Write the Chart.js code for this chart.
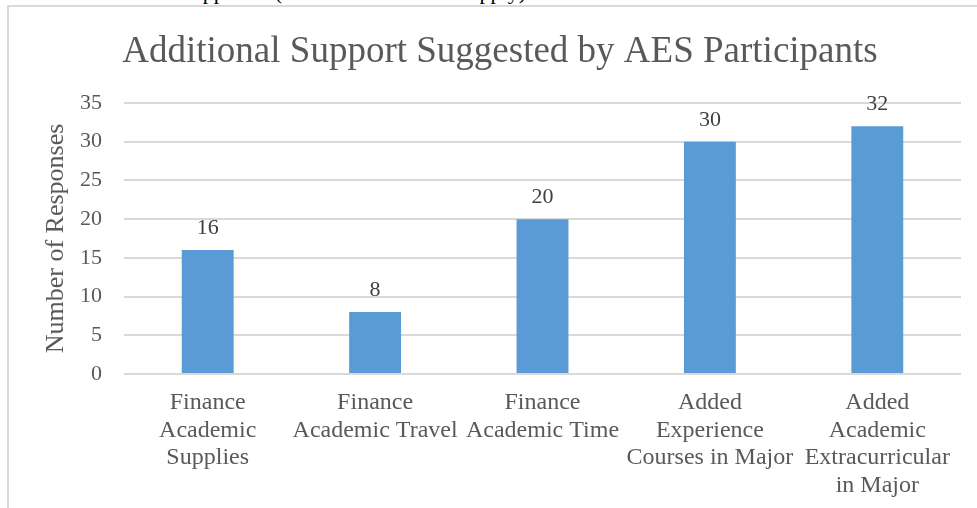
<!DOCTYPE html>
<html>
<head>
<meta charset="utf-8">
<script src="https://cdn.jsdelivr.net/npm/chart.js@4/dist/chart.umd.min.js"></script>
<style>
  html, body { margin: 0; padding: 0; background: #fff; overflow: hidden; }
  body { width: 977px; height: 508px; position: relative; }
  .doc-line {
    position: absolute; left: 60px; top: -19px;
    font: 22px/22px 'Liberation Serif', 'Times New Roman', serif;
    color: #000; word-spacing: 20px; white-space: nowrap;
  }
  .frame {
    position: absolute; left: 7px; top: 5px; width: 1000px; height: 600px;
    border-left: 2px solid #d9d9d9; border-top: 2px solid #d9d9d9;
  }
  .chart-wrap { position: absolute; left: 0; top: 0; width: 977px; height: 508px; }
</style>
</head>
<body>
<div class="doc-line">Additional Support (Check all that apply)</div>
<div class="frame"></div>
<div class="chart-wrap"><canvas id="chart-support" width="977" height="508"></canvas></div>
<script>
const SERIF = "'Liberation Serif', 'Times New Roman', serif"
const TITLE = 'Additional Support Suggested by AES Participants'

const categories = [
  ['Finance', 'Academic', 'Supplies'],
  ['Finance', 'Academic Travel'],
  ['Finance', 'Academic Time'],
  ['Added', 'Experience', 'Courses in Major'],
  ['Added', 'Academic', 'Extracurricular', 'in Major']
]
const responses = [16, 8, 20, 30, 32]
const yTicks = [0, 5, 10, 15, 20, 25, 30, 35]

// title is centred on the whole frame, not on the plot area
const frameTitle = {
  id: 'frameTitle',
  afterDraw(chart) {
    const { ctx } = chart
    ctx.save()
    ctx.font = `37px ${SERIF}`
    ctx.fillStyle = '#595959'
    ctx.textAlign = 'center'
    ctx.textBaseline = 'alphabetic'
    ctx.fillText(TITLE, 500, 62)
    ctx.restore()
  }
}

// numbers above each bar
const barValueLabels = {
  id: 'barValueLabels',
  afterDatasetsDraw(chart) {
    const { ctx } = chart
    const meta = chart.getDatasetMeta(0)
    ctx.save()
    ctx.font = `22px ${SERIF}`
    ctx.fillStyle = '#404040'
    ctx.textAlign = 'center'
    ctx.textBaseline = 'alphabetic'
    meta.data.forEach((bar, i) => {
      ctx.fillText(String(chart.data.datasets[0].data[i]), bar.x, bar.y - 16)
    })
    ctx.restore()
  }
}

new Chart(document.getElementById('chart-support').getContext('2d'), {
  type: 'bar',
  data: {
    labels: categories,
    datasets: [{
      data: responses,
      backgroundColor: '#5b9bd5',
      borderWidth: 0,
      categoryPercentage: 1,
      barPercentage: 0.31
    }]
  },
  options: {
    responsive: false,
    animation: false,
    layout: { padding: { left: 0, right: 16, top: 103, bottom: 0 } },
    plugins: {
      legend: { display: false },
      tooltip: { enabled: false },
      title: { display: false }
    },
    scales: {
      x: {
        grid: { display: false, drawTicks: false },
        border: { display: false },
        ticks: {
          color: '#595959',
          font: { family: SERIF, size: 24, lineHeight: 1.15 },
          padding: 15,
          maxRotation: 0,
          autoSkip: false
        },
        afterFit: s => { s.height = 134 }
      },
      y: {
        min: 0,
        max: yTicks[yTicks.length - 1],
        afterBuildTicks: s => { s.ticks = yTicks.map(v => ({ value: v })) },
        grid: { color: '#d9d9d9', lineWidth: 2, drawTicks: false },
        border: { display: false },
        ticks: {
          color: '#595959',
          font: { family: SERIF, size: 22 },
          padding: 22
        },
        title: {
          display: true,
          text: 'Number of Responses',
          color: '#595959',
          font: { family: SERIF, size: 26, weight: 'normal', lineHeight: 1.2 },
          padding: { top: 41, bottom: 0 }
        },
        afterFit: s => { s.width = 124 }
      }
    }
  },
  plugins: [barValueLabels, frameTitle]
})
</script>
</body>
</html>
